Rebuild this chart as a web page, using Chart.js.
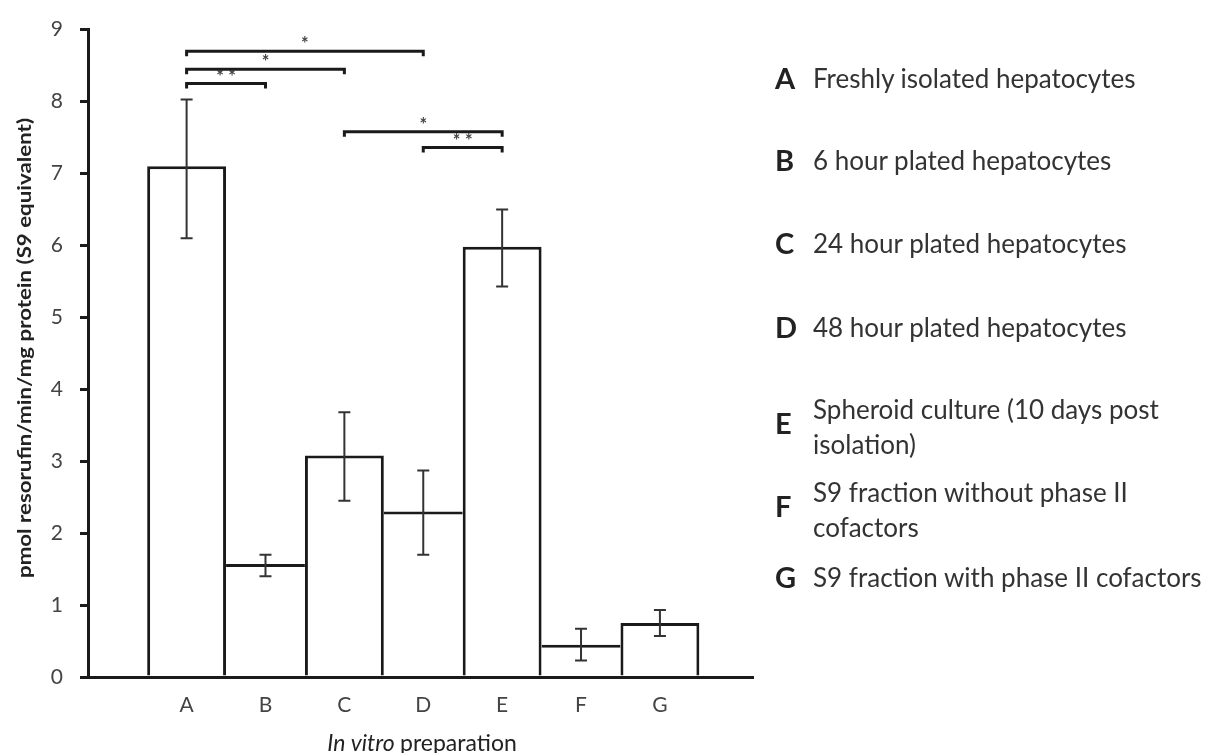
<!DOCTYPE html>
<html>
<head>
<meta charset="utf-8">
<script src="https://cdn.jsdelivr.net/npm/chart.js@4.4.1/dist/chart.umd.min.js"></script>
<style>
  body { margin: 0; background: #fff; }
  #wrap { position: relative; width: 1207px; height: 753px; }
  #chart { position: absolute; left: 0; top: 0; }
  .lg { position: absolute; font-family: Lato, sans-serif; color: #333; font-size: 26px; line-height: 35px; white-space: nowrap; }
  .lt { position: absolute; font-family: Lato, sans-serif; color: #222; font-size: 29px; font-weight: bold; line-height: 30px; }
</style>
</head>
<body>
<div id="wrap">
  <canvas id="chart" width="1207" height="753"></canvas>
</div>
<script>
var groups = ["A", "B", "C", "D", "E", "F", "G"]
var means = [7.1, 1.57, 3.08, 2.3, 5.98, 0.45, 0.75]
var errHigh = [8.03, 1.7, 3.68, 2.87, 6.5, 0.67, 0.93]
var errLow = [6.1, 1.4, 2.45, 1.7, 5.43, 0.23, 0.57]

// significance brackets: from group, to group, height, stars
var sigFrom = [0, 0, 0, 2, 3]
var sigTo = [1, 2, 3, 4, 4]
var sigY = [8.25, 8.45, 8.7, 7.58, 7.36]
var sigText = ["**", "*", "*", "*", "**"]

var yTicks = [0, 1, 2, 3, 4, 5, 6, 7, 8, 9]

var legendLetters = ["A", "B", "C", "D", "E", "F", "G"]
var legendTexts = [
  ["Freshly isolated hepatocytes"],
  ["6 hour  plated hepatocytes"],
  ["24 hour plated hepatocytes"],
  ["48 hour plated hepatocytes"],
  ["Spheroid culture (10 days post", "isolation)"],
  ["S9 fraction without  phase II", "cofactors"],
  ["S9 fraction with  phase II cofactors"]
]
var legendY = [78, 160, 243, 327, 427, 510, 577]

// legend on the right, plain html text
var wrap = document.getElementById("wrap")
legendLetters.forEach(function(l, i){
  var lines = legendTexts[i]
  var t = document.createElement("div")
  t.className = "lg"
  t.style.left = "813px"
  t.style.top = (legendY[i] - lines.length * 35 / 2) + "px"
  t.innerHTML = lines.join("<br>")
  wrap.appendChild(t)
  var a = document.createElement("div")
  a.className = "lt"
  a.style.left = "775px"
  a.style.top = (legendY[i] - 15 + (lines.length > 1 ? -4 : 0)) + "px"
  a.textContent = l
  wrap.appendChild(a)
})

var extras = {
  id: "extras",
  afterDatasetsDraw: function(chart){
    var ctx = chart.ctx
    var xs = chart.scales.x, ys = chart.scales.y
    ctx.save()
    // error bars
    ctx.strokeStyle = "#333"
    ctx.lineWidth = 2
    for (var i = 0; i < means.length; i++) {
      var x = xs.getPixelForValue(i)
      var hi = ys.getPixelForValue(errHigh[i])
      var lo = ys.getPixelForValue(errLow[i])
      ctx.beginPath()
      ctx.moveTo(x, hi); ctx.lineTo(x, lo)
      ctx.moveTo(x - 6, hi); ctx.lineTo(x + 6, hi)
      ctx.moveTo(x - 6, lo); ctx.lineTo(x + 6, lo)
      ctx.stroke()
    }
    // brackets
    ctx.strokeStyle = "#1a1a1a"
    ctx.lineWidth = 3
    ctx.fillStyle = "#444"
    ctx.font = "bold 18px Lato"
    ctx.textAlign = "center"
    ctx.textBaseline = "alphabetic"
    for (var j = 0; j < sigFrom.length; j++) {
      var x1 = xs.getPixelForValue(sigFrom[j])
      var x2 = xs.getPixelForValue(sigTo[j])
      var y = ys.getPixelForValue(sigY[j])
      ctx.beginPath()
      ctx.moveTo(x1, y + 5); ctx.lineTo(x1, y); ctx.lineTo(x2, y); ctx.lineTo(x2, y + 5)
      ctx.stroke()
      ctx.fillText(sigText[j].split("").join(" "), (x1 + x2) / 2, y - 1)
    }
    ctx.restore()
  },
  afterDraw: function(chart){
    var ctx = chart.ctx
    ctx.save()
    // y title, stretched along its length to the reference span
    var yt = "pmol resorufin/min/mg protein (S9 equivalent)"
    ctx.font = "bold 19px Lato"
    var tw = ctx.measureText(yt).width
    ctx.translate(25, 348)
    ctx.rotate(-Math.PI / 2)
    ctx.scale(460 / tw, 1)
    ctx.fillStyle = "#222"
    ctx.textAlign = "center"
    ctx.textBaseline = "middle"
    ctx.fillText(yt, 0, 0)
    ctx.restore()
    // x title, italic part + regular part
    ctx.save()
    ctx.fillStyle = "#222"
    ctx.textBaseline = "middle"
    ctx.textAlign = "left"
    ctx.font = "italic 23px Lato"
    var w1 = ctx.measureText("In vitro ").width
    ctx.font = "23px Lato"
    var w2 = ctx.measureText("preparation").width
    var sx = 422 - (w1 + w2) / 2
    ctx.font = "italic 23px Lato"
    ctx.fillText("In vitro ", sx, 744)
    ctx.font = "23px Lato"
    ctx.fillText("preparation", sx + w1, 744)
    ctx.restore()
  }
}

var barData = means.map(function(v, i){ return {x: i, y: v} })

new Chart(document.getElementById("chart"), {
  type: "bar",
  data: {
    datasets: [{
      data: barData,
      backgroundColor: "#ffffff",
      borderColor: "#1a1a1a",
      borderWidth: function(c){
        var i = c.dataIndex
        var prev = i > 0 ? means[i - 1] : -1
        var next = i < means.length - 1 ? means[i + 1] : -1
        return { top: 3, left: prev < means[i] ? 3 : 0, right: next <= means[i] ? 3 : 0, bottom: 0 }
      },
      borderSkipped: "start",
      barPercentage: 1,
      categoryPercentage: 1,
      inflateAmount: 0
    }]
  },
  options: {
    responsive: false,
    animation: false,
    layout: { padding: { top: 20, right: 454, left: 0, bottom: 0 } },
    plugins: { legend: { display: false }, tooltip: { enabled: false } },
    scales: {
      x: {
        type: "linear",
        offset: false,
        min: -1.25,
        max: 7.18,
        afterBuildTicks: function(s){ s.ticks = groups.map(function(g, i){ return {value: i} }) },
        afterFit: function(s){ s.height = 76 },
        grid: { display: false, drawTicks: false },
        border: { color: "#1a1a1a", width: 3 },
        ticks: {
          color: "#444",
          font: { family: "Lato", size: 21 },
          padding: 16,
          autoSkip: false,
          maxRotation: 0,
          callback: function(v){ return groups[v] }
        }
      },
      y: {
        min: 0,
        max: 9,
        afterBuildTicks: function(s){ s.ticks = yTicks.map(function(v){ return {value: v} }) },
        afterFit: function(s){ s.width = 88 },
        grid: { drawOnChartArea: false, drawTicks: true, tickLength: 8, color: "#1a1a1a", lineWidth: 3 },
        border: { color: "#1a1a1a", width: 3 },
        ticks: {
          color: "#444",
          font: { family: "Lato", size: 21 },
          padding: 17
        }
      }
    }
  },
  plugins: [extras]
})
</script>
</body>
</html>
